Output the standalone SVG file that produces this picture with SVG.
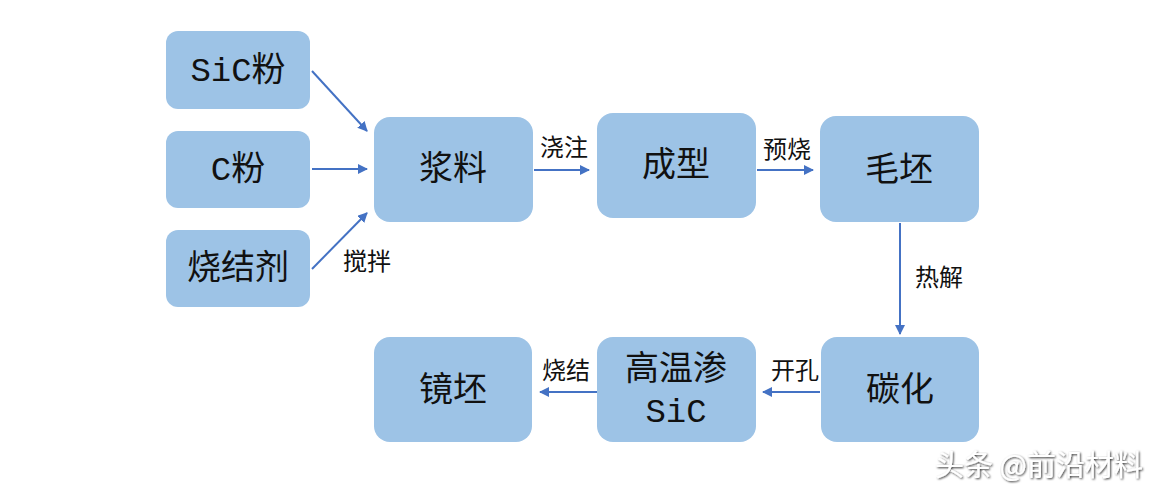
<svg xmlns="http://www.w3.org/2000/svg" width="1168" height="492" viewBox="0 0 1168 492">
<defs>
<marker id="ah" viewBox="0 0 10 10" refX="9" refY="5" markerWidth="10" markerHeight="10" markerUnits="userSpaceOnUse" orient="auto">
<path d="M0,0 L10,5 L0,10 z" fill="#4472C4"/>
</marker>
<filter id="sh" x="-10%" y="-30%" width="120%" height="160%">
<feDropShadow dx="1" dy="1" stdDeviation="0.8" flood-color="#000" flood-opacity="0.8"/>
</filter>
</defs>
<style>
.box{fill:#9DC3E6;}
.nt{font-family:"Liberation Mono","Noto Sans CJK SC",monospace;font-size:34px;fill:#111;text-anchor:middle;dominant-baseline:central;}
.lb{font-family:"Noto Sans CJK SC",sans-serif;font-size:24px;fill:#111;text-anchor:middle;dominant-baseline:central;}
.ln{stroke:#4472C4;stroke-width:2;fill:none;marker-end:url(#ah);}
.wm{font-family:"Noto Sans CJK SC",sans-serif;font-size:29px;fill:#fff;filter:url(#sh);}
</style>
<rect width="1168" height="492" fill="#fff"/>
<g id="n-sic"><rect class="box" x="166" y="31" width="144" height="78" rx="12"/><text class="nt" x="238" y="72">SiC粉</text></g>
<g id="n-c"><rect class="box" x="166" y="131" width="144" height="77" rx="12"/><text class="nt" x="238" y="171">C粉</text></g>
<g id="n-sj"><rect class="box" x="166" y="230" width="144" height="77" rx="12"/><text class="nt" x="238" y="270">烧结剂</text></g>
<g id="n-jl"><rect class="box" x="374" y="117" width="159" height="105" rx="16"/><text class="nt" x="453" y="171">浆料</text></g>
<g id="n-cx"><rect class="box" x="597" y="113" width="159" height="105" rx="16"/><text class="nt" x="676" y="167">成型</text></g>
<g id="n-mp"><rect class="box" x="820" y="116" width="159" height="106" rx="16"/><text class="nt" x="899" y="172">毛坯</text></g>
<g id="n-th"><rect class="box" x="821" y="337" width="158" height="105" rx="16"/><text class="nt" x="900" y="392">碳化</text></g>
<g id="n-gw"><rect class="box" x="597" y="337" width="159" height="105" rx="16"/><text class="nt" x="676" y="371">高温渗</text><text class="nt" x="676" y="413">SiC</text></g>
<g id="n-jp"><rect class="box" x="374" y="337" width="158" height="105" rx="16"/><text class="nt" x="453" y="392">镜坯</text></g>
<g id="connectors">
<line class="ln" x1="312" y1="71" x2="367" y2="131"/>
<line class="ln" x1="312" y1="169" x2="367" y2="169"/>
<line class="ln" x1="312" y1="269" x2="367" y2="213"/>
<line class="ln" x1="534" y1="170" x2="589" y2="170"/>
<line class="ln" x1="757" y1="170" x2="813" y2="170"/>
<line class="ln" x1="900" y1="223" x2="900" y2="334"/>
<line class="ln" x1="820" y1="392" x2="763" y2="392"/>
<line class="ln" x1="597" y1="392" x2="540" y2="392"/>
<text class="lb" x="367" y="259">搅拌</text>
<text class="lb" x="564" y="145">浇注</text>
<text class="lb" x="787" y="147">预烧</text>
<text class="lb" x="939" y="275">热解</text>
<text class="lb" x="795" y="368">开孔</text>
<text class="lb" x="566" y="368">烧结</text>
</g>
<text class="wm" x="935" y="476">头条 @前沿材料</text>
</svg>
